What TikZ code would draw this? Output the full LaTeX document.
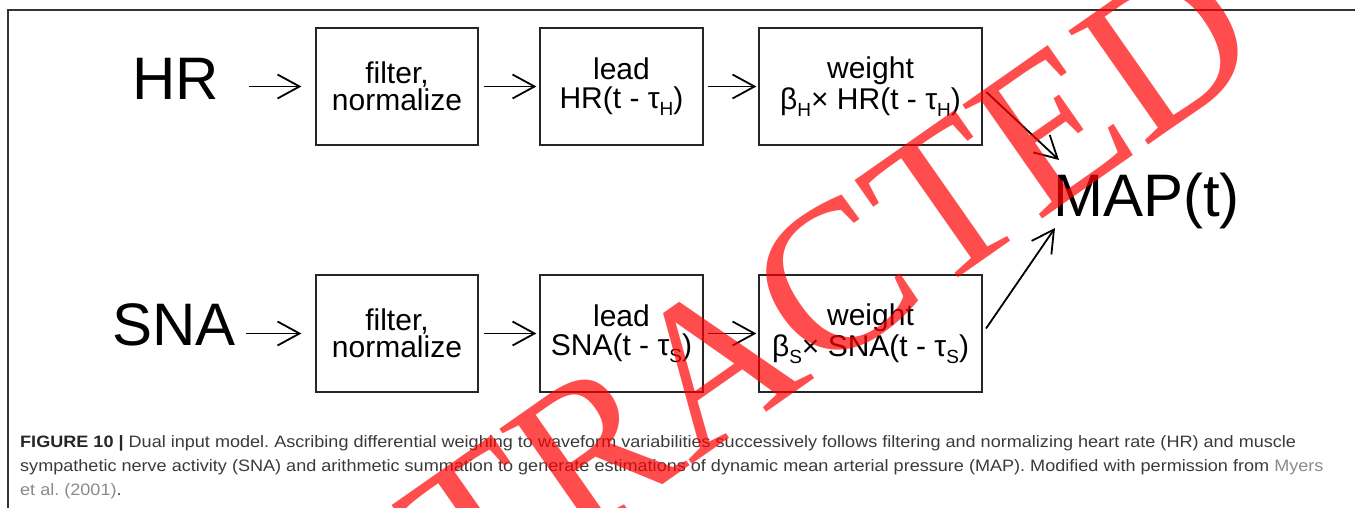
\documentclass[tikz,border=0pt]{standalone}
\usepackage{fontspec}
\setmainfont{Liberation Sans}
\newfontfamily\wmfont{Liberation Serif}
\newfontfamily\capfont[FakeStretch=1.095]{Liberation Sans}
\usetikzlibrary{arrows.meta}
\definecolor{frame}{HTML}{333333}
\definecolor{captxt}{HTML}{3A3A3A}
\definecolor{caplink}{HTML}{8A8A8A}
\definecolor{stampred}{HTML}{FF0000}
\newcommand\subsc[1]{\raisebox{-7pt}{\fontsize{19}{19}\selectfont #1}}
\begin{document}
\begin{tikzpicture}[x=1pt,y=-1pt,
  box/.style={draw=black!85, line width=1.2pt, minimum height=117, inner sep=0pt, align=center,
              font=\fontsize{30}{27}\selectfont},
  big/.style={inner sep=0pt, font=\fontsize{60}{60}\selectfont},
  arr/.style={line width=1.8pt, -{Straight Barb[length=22pt,width=24pt,line width=1.8pt]}},
  wm/.style={text=stampred, text opacity=0.7, inner sep=0pt, font=\wmfont\fontsize{212}{212}\selectfont}]
\useasboundingbox (0,0) rectangle (1355,508);
\draw[frame, line width=1.2pt] (8,508) -- (8,10) -- (1356,10);

% row 1
\node[big, anchor=base west] (hr) at (132,100) {HR};
\node[box, minimum width=162] (b1) at (397,86.5) {filter,\\normalize};
\node[box, minimum width=163] (b2) at (621.5,86.5) {lead\\[2pt]HR(t - τ\subsc{H})};
\node[box, minimum width=223] (b3) at (870.5,86.5) {weight\\[2pt]β\subsc{H}× HR(t - τ\subsc{H})};

% row 2
\node[big, anchor=base west] (sna) at (112,345) {SNA};
\node[box, minimum width=162] (c1) at (397,333.5) {filter,\\normalize};
\node[box, minimum width=163] (c2) at (621.5,333.5) {lead\\[2pt]SNA(t - τ\subsc{S})};
\node[box, minimum width=223] (c3) at (870.5,333.5) {weight\\[2pt]β\subsc{S}× SNA(t - τ\subsc{S})};

% output
\node[big, anchor=base west] (map) at (1053,216) {MAP(t)};
\coordinate (mtop) at (1059,160);
\coordinate (mbot) at (1055,228);

% connectors
\draw[arr, shorten <=30pt, shorten >=14pt] (hr.east |- b1.west) -- (b1.west);
\draw[arr, shorten <=5pt, shorten >=3pt] (b1.east) -- (b2.west);
\draw[arr, shorten <=4pt, shorten >=2pt] (b2.east) -- (b3.west);
\draw[arr, shorten <=10pt, shorten >=14pt] (sna.east |- c1.west) -- (c1.west);
\draw[arr, shorten <=5pt, shorten >=3pt] (c1.east) -- (c2.west);
\draw[arr, shorten <=4pt, shorten >=2pt] (c2.east) -- (c3.west);
\draw[arr, shorten <=5pt] ([yshift=-2pt]b3.east) -- (mtop);
\draw[arr, shorten <=6pt] (c3.east) -- (mbot);

% caption
\node[anchor=base west, inner sep=0pt, align=left, text=captxt,
      font=\capfont\fontsize{16.5}{24}\selectfont\frenchspacing] (cap) at (20,495)
  {\textbf{\color{black!85}FIGURE 10 |} Dual input model. Ascribing differential weighing to waveform variabilities successively follows filtering and normalizing heart rate (HR) and muscle\\
   sympathetic nerve activity (SNA) and arithmetic summation to generate estimations of dynamic mean arterial pressure (MAP). Modified with permission from {\color{caplink}Myers}\\
   {\color{caplink}et al. (2001)}.};

% retraction stamp
\node[wm, rotate=35] (stamp) at (718,362) {RETRACTED};
\end{tikzpicture}
\end{document}
